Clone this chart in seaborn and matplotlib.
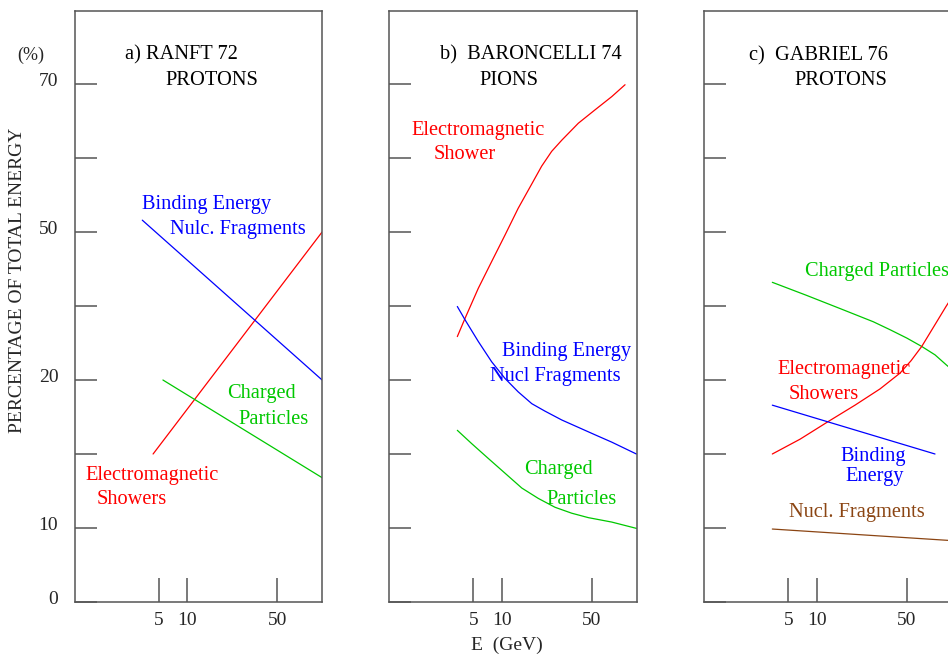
import numpy as np
import matplotlib
matplotlib.use('Agg')
import matplotlib.pyplot as plt
import seaborn as sns
from matplotlib.transforms import ScaledTranslation

# --- data (E in GeV, share in % of total energy) ---
# a) Ranft 72, protons
a_em_E = [4.33, 111]
a_em_pct = [15.0, 50.0]
a_bind_E = [3.33, 111]
a_bind_pct = [51.6, 20.0]
a_chg_E = [5.5, 111]
a_chg_pct = [20.0, 13.4]

# b) Baroncelli 74, pions
b_em_E = [3.39, 4.09, 5.65, 7.81, 10.6, 13.4, 17.1, 20.4, 24.4, 29.2, 39.3, 52.9, 71.5, 90.6]
b_em_pct = [28.8, 32.5, 38.6, 44.0, 49.4, 53.2, 56.5, 58.9, 60.9, 62.4, 64.7, 66.5, 68.3, 69.9]
b_bind_E = [3.39, 4.09, 5.65, 7.81, 10.6, 13.4, 17.1, 21.6, 29.2, 39.3, 52.9, 71.5, 111]
b_bind_pct = [34.9, 32.2, 27.8, 23.7, 20.3, 19.2, 18.4, 17.9, 17.3, 16.8, 16.3, 15.8, 15.0]
b_chg_E = [3.39, 4.81, 7.2, 10.6, 14.3, 19.2, 25.9, 34.9, 47.0, 71.5, 111]
b_chg_pct = [16.6, 15.7, 14.7, 13.7, 12.7, 12.0, 11.4, 11.0, 10.7, 10.4, 9.95]

# c) Gabriel 76, protons
c_chg_E = [3.39, 7.69, 15.1, 27.5, 37.0, 50.0, 65.3, 82.8, 102, 111]
c_chg_pct = [39.8, 37.2, 34.5, 31.8, 30.2, 28.5, 26.8, 25.1, 23.0, 22.2]
c_em_E = [3.39, 6.65, 12.3, 19.8, 31.0, 44.3, 53.9, 65.3, 85.4, 100.8, 111]
c_em_pct = [15.0, 16.0, 17.2, 18.3, 19.4, 21.4, 23.9, 26.8, 31.8, 34.9, 36.6]
c_bind_E = [3.39, 82.8]
c_bind_pct = [18.3, 15.0]
c_nucl_E = [3.39, 111]
c_nucl_pct = [9.86, 8.3]

x_ticks = [5, 10, 50]
y_ticks = [0, 10, 15, 20, 35, 50, 60, 70]
y_ticklabels = ['0', '10', '', '20', '', '50', '', '70']

RED = '#ff0000'
BLUE = '#0000ff'
GREEN = '#00c800'
BROWN = '#8b4513'
GREY = '#555555'


def piecewise(xk, yk):
    xk = np.asarray(xk, float)
    yk = np.asarray(yk, float)
    s0 = (yk[1] - yk[0]) / (xk[1] - xk[0])
    s1 = (yk[-1] - yk[-2]) / (xk[-1] - xk[-2])

    def f(v):
        v = np.asarray(v, float)
        out = np.interp(v, xk, yk)
        out = np.where(v < xk[0], yk[0] + (v - xk[0]) * s0, out)
        out = np.where(v > xk[-1], yk[-1] + (v - xk[-1]) * s1, out)
        return out
    return f


# the hand drawn axes are not quite log / linear, so use piecewise scales
lx = np.log10([5, 10, 50])
px = [84, 112.5, 202.5]
_xf = piecewise(lx, px)
_xi = piecewise(px, lx)


def x_fwd(E):
    return _xf(np.log10(np.clip(np.asarray(E, float), 1e-6, None)))


def x_inv(p):
    return 10 ** _xi(p)


y_fwd = piecewise([0, 10, 20, 50, 70], [0, 1, 3, 5, 7])
y_inv = piecewise([0, 1, 3, 5, 7], [0, 10, 20, 50, 70])

sns.set_style('white')
plt.rcParams['font.family'] = ['Liberation Serif', 'DejaVu Serif']

W, H = 948, 658
fig = plt.figure(figsize=(W / 100, H / 100), dpi=100)

panel_left = [75, 389.3, 704.3]
pw, top, bot = 247.4, 11, 602
axes = []
for xl in panel_left:
    ax = fig.add_axes([xl / W, (H - bot) / H, pw / W, (bot - top) / H])
    ax.set_xscale('function', functions=(x_fwd, x_inv))
    ax.set_yscale('function', functions=(y_fwd, y_inv))
    axes.append(ax)

series = [
    [(a_em_E, a_em_pct, RED), (a_bind_E, a_bind_pct, BLUE), (a_chg_E, a_chg_pct, GREEN)],
    [(b_em_E, b_em_pct, RED), (b_bind_E, b_bind_pct, BLUE), (b_chg_E, b_chg_pct, GREEN)],
    [(c_chg_E, c_chg_pct, GREEN), (c_em_E, c_em_pct, RED),
     (c_bind_E, c_bind_pct, BLUE), (c_nucl_E, c_nucl_pct, BROWN)],
]

fs = 14.7
for i, ax in enumerate(axes):
    for E, pct, col in series[i]:
        sns.lineplot(x=E, y=pct, sort=False, estimator=None, color=col,
                     linewidth=0.9, ax=ax)
    ax.set_xlim(float(x_inv(0)), float(x_inv(pw)))
    ax.set_ylim(0, float(y_inv((bot - top) / 74.0)))
    ax.set_xticks(x_ticks, labels=[str(t) for t in x_ticks])
    ax.set_yticks(y_ticks, labels=y_ticklabels if i == 0 else [''] * len(y_ticks))
    ax.tick_params(axis='x', direction='in', length=17.3, width=1.1, color=GREY,
                   labelsize=14, pad=7, bottom=True)
    ax.tick_params(axis='y', direction='in', length=15.8, width=1.1, color=GREY,
                   labelsize=14, pad=12, left=True, labelleft=(i == 0))
    ax.minorticks_off()
    for s in ax.spines.values():
        s.set_color(GREY)
        s.set_linewidth(1.1)
    ax.set_xlabel('')
    ax.set_ylabel('')

up = ScaledTranslation(0, 0.04, fig.dpi_scale_trans)
for lab in axes[0].get_yticklabels():
    lab.set_transform(lab.get_transform() + up)

# panel annotations, positions in axes fractions
notes = [
    [('a) RANFT 72', 0.202, 0.929, 'black'), ('PROTONS', 0.364, 0.887, 'black'),
     ('Binding Energy', 0.272, 0.677, BLUE), ('Nulc. Fragments', 0.384, 0.635, BLUE),
     ('Charged', 0.613, 0.356, GREEN), ('Particles', 0.660, 0.3125, GREEN),
     ('Electromagnetic', 0.043, 0.218, RED), ('Showers', 0.088, 0.178, RED)],
    [('b)  BARONCELLI 74', 0.205, 0.929, 'black'), ('PIONS', 0.363, 0.887, 'black'),
     ('Electromagnetic', 0.0905, 0.8025, RED), ('Shower', 0.181, 0.761, RED),
     ('Binding Energy', 0.454, 0.4276, BLUE), ('Nucl Fragments', 0.407, 0.3858, BLUE),
     ('Charged', 0.544, 0.229, GREEN), ('Particles', 0.636, 0.178, GREEN)],
    [('c)  GABRIEL 76', 0.182, 0.928, 'black'), ('PROTONS', 0.364, 0.886, 'black'),
     ('Charged Particles', 0.407, 0.563, GREEN),
     ('Electromagnetic', 0.295, 0.397, RED), ('Showers', 0.341, 0.355, RED),
     ('Binding', 0.5485, 0.250, BLUE), ('Energy', 0.5687, 0.2166, BLUE),
     ('Nucl. Fragments', 0.342, 0.1557, BROWN)],
]
for ax, nl in zip(axes, notes):
    for txt, x, y, col in nl:
        ax.text(x, y - 0.004, txt, transform=ax.transAxes, ha='left', va='center',
                color=col, fontsize=fs, clip_on=False)

fig.text(31 / W, (H - 55) / H, '(%)', ha='center', va='center', fontsize=13)
fig.text(18 / W, (H - 280) / H, 'PERCENTAGE OF TOTAL ENERGY', rotation=90,
         ha='center', va='center', fontsize=14)
fig.text(506.5 / W, (H - 645) / H, 'E  (GeV)', ha='center', va='center', fontsize=14)

fig.savefig('out.png', dpi=100)
